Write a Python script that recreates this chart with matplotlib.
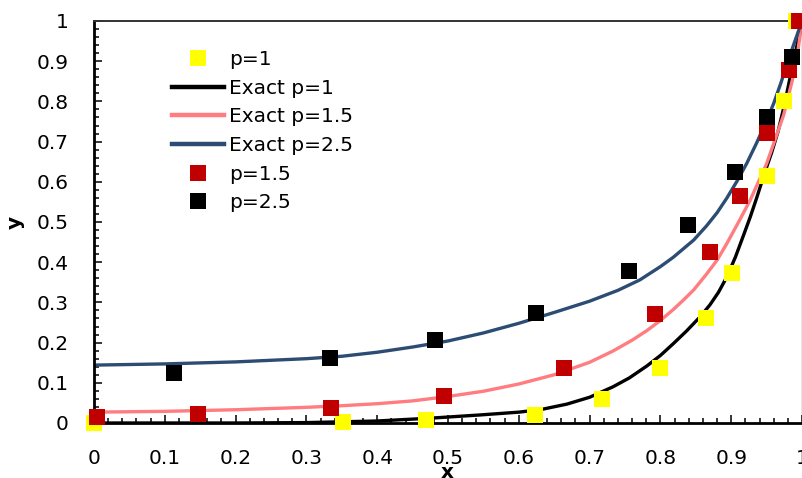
import matplotlib
matplotlib.use("Agg")
import matplotlib.pyplot as plt
from matplotlib.ticker import MultipleLocator

plt.rcParams.update({
    "font.family": "DejaVu Sans",
    "font.size": 14.5,
})

YELLOW = "#ffff00"
RED = "#c00000"
BLACK = "#000000"
PINK = "#ff7c80"
NAVY = "#2c4c74"

# scattered solutions
x_p1 = [0.0, 0.351, 0.469, 0.623, 0.717, 0.800, 0.865, 0.901, 0.950, 0.975, 0.992]
y_p1 = [0.0, 0.003, 0.007, 0.021, 0.059, 0.137, 0.262, 0.372, 0.614, 0.801, 1.0]

x_p15 = [0.004, 0.147, 0.335, 0.494, 0.664, 0.792, 0.870, 0.913, 0.950, 0.982, 0.996]
y_p15 = [0.016, 0.022, 0.037, 0.067, 0.138, 0.271, 0.425, 0.565, 0.721, 0.878, 1.0]

x_p25 = [0.113, 0.333, 0.481, 0.625, 0.756, 0.839, 0.906, 0.951, 0.986]
y_p25 = [0.124, 0.161, 0.206, 0.274, 0.377, 0.493, 0.625, 0.762, 0.911]

# exact curves
xe_1 = [0.0, 0.2, 0.3, 0.4, 0.475, 0.545, 0.6, 0.63, 0.668, 0.7, 0.733, 0.756,
        0.781, 0.8, 0.818, 0.837, 0.856, 0.87, 0.882, 0.894, 0.906, 0.917, 0.927,
        0.936, 0.948, 0.957, 0.966, 0.975, 0.985, 0.993, 1.0]
ye_1 = [0.0, 0.0, 0.001, 0.005, 0.012, 0.02, 0.027, 0.033, 0.047, 0.064, 0.09, 0.112,
        0.142, 0.168, 0.197, 0.229, 0.264, 0.294, 0.325, 0.364, 0.413, 0.465, 0.513,
        0.56, 0.626, 0.672, 0.724, 0.79, 0.875, 0.94, 1.0]

xe_15 = [0.0, 0.1, 0.2, 0.3, 0.35, 0.4, 0.45, 0.5, 0.55, 0.6, 0.65, 0.7, 0.733,
         0.761, 0.781, 0.8, 0.818, 0.832, 0.847, 0.865, 0.88, 0.894, 0.912, 0.927,
         0.938, 0.95, 0.96, 0.974, 0.986, 0.993, 1.0]
ye_15 = [0.027, 0.029, 0.033, 0.039, 0.043, 0.048, 0.055, 0.066, 0.079, 0.097,
         0.12, 0.151, 0.179, 0.207, 0.23, 0.255, 0.282, 0.305, 0.331, 0.37, 0.405,
         0.447, 0.505, 0.555, 0.598, 0.645, 0.695, 0.766, 0.85, 0.91, 1.0]

xe_25 = [0.0, 0.1, 0.2, 0.3, 0.35, 0.4, 0.45, 0.5, 0.55, 0.6, 0.65, 0.7, 0.74,
         0.771, 0.8, 0.818, 0.847, 0.865, 0.88, 0.894, 0.908, 0.922, 0.936, 0.95,
         0.96, 0.97, 0.978, 0.986, 0.995, 1.0]
ye_25 = [0.144, 0.147, 0.152, 0.16, 0.166, 0.176, 0.189, 0.204, 0.224, 0.248,
         0.275, 0.303, 0.33, 0.356, 0.389, 0.412, 0.455, 0.49, 0.523, 0.56,
         0.601, 0.646, 0.697, 0.752, 0.795, 0.845, 0.888, 0.93, 0.975, 1.0]

fig = plt.figure(figsize=(8.03, 4.78), dpi=100)
ax = fig.add_axes([94 / 803, 1 - 423 / 478, 708 / 803, 402 / 478])

ms = 11
lw = 2.4
ax.plot(x_p1, y_p1, "s", color=YELLOW, ms=ms, mew=0, label="p=1", zorder=3, clip_on=False)
ax.plot(xe_1, ye_1, "-", color=BLACK, lw=lw, solid_joinstyle="round", label="Exact p=1", zorder=2)
ax.plot(xe_15, ye_15, "-", color=PINK, lw=lw, solid_joinstyle="round", label="Exact p=1.5", zorder=2)
ax.plot(xe_25, ye_25, "-", color=NAVY, lw=lw, solid_joinstyle="round", label="Exact p=2.5", zorder=2)
ax.plot(x_p15, y_p15, "s", color=RED, ms=ms, mew=0, label="p=1.5", zorder=4, clip_on=False)
ax.plot(x_p25, y_p25, "s", color=BLACK, ms=ms, mew=0, label="p=2.5", zorder=5, clip_on=False)

ax.set_xlim(0, 1)
ax.set_ylim(0, 1)
ax.xaxis.set_major_locator(MultipleLocator(0.1))
ax.xaxis.set_minor_locator(MultipleLocator(0.02))
ax.yaxis.set_major_locator(MultipleLocator(0.1))
ax.yaxis.set_minor_locator(MultipleLocator(0.02))
fmt = lambda v, _: "0" if abs(v) < 1e-9 else ("1" if abs(v - 1) < 1e-9 else f"{v:.1f}")
ax.xaxis.set_major_formatter(fmt)
ax.yaxis.set_major_formatter(fmt)

ax.tick_params(which="both", direction="in", top=False, right=False, width=1.1)
ax.tick_params(which="major", length=5.5)
ax.tick_params(which="minor", length=3.5)
ax.tick_params(axis="x", which="major", pad=19)
ax.tick_params(axis="y", which="major", pad=18)

ax.spines["left"].set_linewidth(2.0)
ax.spines["bottom"].set_linewidth(2.0)
ax.spines["top"].set_linewidth(1.4)
ax.spines["top"].set_color("#333333")
ax.spines["right"].set_linewidth(0.9)
ax.spines["right"].set_color("#444444")

ax.set_xlabel("x", fontweight="bold", va="center")
ax.xaxis.set_label_coords(0.499, -0.122)
ax.set_ylabel("y", fontweight="bold", va="center")
ax.yaxis.set_label_coords(-0.111, 0.5)

leg = ax.legend(loc="upper left", bbox_to_anchor=(0.110, 0.928), frameon=False,
                borderpad=0, borderaxespad=0, handlelength=2.6, handletextpad=0.25,
                labelspacing=0.48, fontsize=14.5)
for h in leg.legend_handles:
    if h.get_linestyle() != "None":
        h.set_linewidth(3.2)

fig.savefig("out.png", dpi=100)
